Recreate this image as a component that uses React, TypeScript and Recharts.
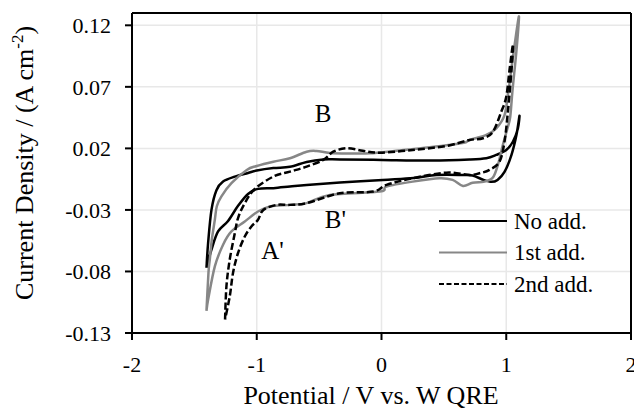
import { LineChart, Line, XAxis, YAxis, CartesianGrid, ReferenceLine, ReferenceDot, Legend, Label } from "recharts";

const FONT = '"Liberation Serif", "Times New Roman", serif';

const xTicks = [-2, -1, 0, 1, 2];
const yTicks = [-0.13, -0.08, -0.03, 0.02, 0.07, 0.12];

// No add. (black, solid) - one closed CV loop
const noAddX = [-1.403, -1.39, -1.363, -1.323, -1.27, -1.176, -1.07, -1.0, -0.867, -0.734, -0.6, -0.467, -0.334, 0.0, 0.4, 0.706, 0.84, 0.92, 1.0, 1.053, 1.093, 1.106, 1.082, 1.042, 0.986, 0.93, 0.882, 0.818, 0.73, 0.658, 0.44, 0.258, 0.01, -0.333, -0.6, -0.734, -0.867, -0.99, -1.07, -1.15, -1.23, -1.31, -1.363, -1.403];
const noAddY = [-0.077, -0.057, -0.03, -0.014, -0.007, -0.003, 0.0, 0.002, 0.004, 0.005, 0.009, 0.011, 0.011, 0.0106, 0.0102, 0.011, 0.012, 0.0147, 0.0187, 0.0254, 0.036, 0.0465, 0.031, 0.0147, 0.0009, -0.0056, -0.0072, -0.0056, -0.002, -0.0016, -0.0016, -0.004, -0.0056, -0.0078, -0.0097, -0.011, -0.0123, -0.0129, -0.017, -0.0267, -0.039, -0.0475, -0.0623, -0.077];

// 1st add. (grey)
const firstX = [-1.403, -1.387, -1.376, -1.36, -1.336, -1.32, -1.283, -1.203, -1.08, -1.0, -0.867, -0.734, -0.6, -0.52, -0.414, -0.254, -0.094, 0.12, 0.386, 0.65, 0.706, 0.84, 0.92, 0.986, 1.018, 1.05, 1.078, 1.102, 1.082, 1.05, 1.032, 1.01, 0.973, 0.933, 0.898, 0.866, 0.818, 0.73, 0.653, 0.57, 0.466, 0.25, 0.04, -0.014, -0.414, -0.6, -0.734, -0.894, -0.99, -1.096, -1.203, -1.27, -1.336, -1.39, -1.403];
const firstY = [-0.112, -0.081, -0.07, -0.054, -0.038, -0.027, -0.019, -0.0083, 0.0025, 0.0057, 0.0092, 0.012, 0.0173, 0.0179, 0.0163, 0.0159, 0.016, 0.0181, 0.0209, 0.0244, 0.0268, 0.031, 0.0363, 0.047, 0.067, 0.0916, 0.112, 0.127, 0.0997, 0.067, 0.0457, 0.0365, 0.0228, 0.0066, -0.003, -0.0056, -0.0072, -0.008, -0.0105, -0.0056, -0.0042, -0.007, -0.011, -0.0151, -0.0178, -0.0245, -0.0259, -0.0272, -0.0313, -0.0394, -0.0475, -0.0583, -0.0759, -0.103, -0.112];

// 2nd add. (black, dashed)
const secondX = [-1.254, -1.243, -1.216, -1.176, -1.15, -1.096, -1.016, -0.867, -0.734, -0.6, -0.467, -0.387, -0.28, -0.15, -0.014, 0.25, 0.52, 0.706, 0.813, 0.893, 0.96, 1.0, 1.026, 1.054, 1.042, 1.013, 0.986, 0.946, 0.866, 0.786, 0.706, 0.52, 0.25, 0.04, -0.067, -0.334, -0.6, -0.734, -0.84, -0.947, -0.99, -1.043, -1.096, -1.15, -1.19, -1.216, -1.254];
const secondY = [-0.119, -0.092, -0.07, -0.049, -0.0366, -0.0245, -0.013, -0.0029, 0.0011, 0.0052, 0.0106, 0.0173, 0.0201, 0.0181, 0.0165, 0.0187, 0.022, 0.0268, 0.0282, 0.0335, 0.0497, 0.0619, 0.0835, 0.1045, 0.0835, 0.0497, 0.0254, 0.0092, 0.0025, -0.0002, -0.0016, 0.0003, -0.0042, -0.0097, -0.0151, -0.0164, -0.0245, -0.0259, -0.0259, -0.03, -0.038, -0.0435, -0.0516, -0.065, -0.081, -0.1, -0.119];

const seriesNames = ["No add.", "1st add.", "2nd add."];

// peak labels
const peakText = ["B", "B'", "A'"];
const peakX = [-0.468, -0.369, -0.874];
const peakY = [0.0485, -0.0371, -0.0626];

const toPoints = (xs: number[], ys: number[]) => xs.map((x, i) => ({ x, y: ys[i] }));

const series = [
  { name: seriesNames[0], data: toPoints(noAddX, noAddY), stroke: "#000000", dash: undefined },
  { name: seriesNames[1], data: toPoints(firstX, firstY), stroke: "#878787", dash: undefined },
  { name: seriesNames[2], data: toPoints(secondX, secondY), stroke: "#000000", dash: "7 3" },
];

// Catmull-Rom style curve so the loops come out smooth (the x values go back and forth)
const smoothCurve = (context: any) => {
  let pts: number[][] = [];
  return {
    areaStart() {},
    areaEnd() {},
    lineStart() {
      pts = [];
    },
    point(x: number, y: number) {
      pts.push([+x, +y]);
    },
    lineEnd() {
      if (!pts.length) return;
      context.moveTo(pts[0][0], pts[0][1]);
      for (let i = 0; i < pts.length - 1; i++) {
        const p0 = pts[i - 1] || pts[i];
        const p1 = pts[i];
        const p2 = pts[i + 1];
        const p3 = pts[i + 2] || p2;
        context.bezierCurveTo(
          p1[0] + (p2[0] - p0[0]) / 6,
          p1[1] + (p2[1] - p0[1]) / 6,
          p2[0] - (p3[0] - p1[0]) / 6,
          p2[1] - (p3[1] - p1[1]) / 6,
          p2[0],
          p2[1]
        );
      }
    },
  };
};

const renderLegend = () => (
  <svg width={200} height={100}>
    {series.map((s, i) => (
      <g key={s.name}>
        <line x1={4} x2={72} y1={16 + i * 31.5} y2={16 + i * 31.5} stroke={s.stroke} strokeWidth={2} strokeDasharray={s.dash ? "5 2.5" : undefined} />
        <text x={79} y={16 + i * 31.5} dominantBaseline="central" fontSize={23} fontFamily={FONT} fill="#000">
          {s.name}
        </text>
      </g>
    ))}
  </svg>
);

const XTitle = () => (
  <text x={371} y={404} textAnchor="middle" fontSize={26} fontFamily={FONT} fill="#000">
    Potential / V vs. W QRE
  </text>
);

const YTitle = () => (
  <text transform="translate(33,163) rotate(-90)" textAnchor="middle" fontSize={26} fontFamily={FONT} fill="#000">
    Current Density / (A cm<tspan dy={-10} fontSize={17}>-2</tspan><tspan dy={10}>)</tspan>
  </text>
);

const tickStyle = { fontSize: 22, fill: "#000", fontFamily: FONT };

export default function App() {
  return (
    <div style={{ position: "absolute", left: 0, top: 0 }}>
      <LineChart width={634} height={410} margin={{ top: 13, right: 3, bottom: 0, left: 0 }}>
        <CartesianGrid stroke="#e8e8e8" strokeWidth={1.5} />
        <XAxis
          type="number"
          dataKey="x"
          domain={[-2, 2]}
          ticks={xTicks}
          interval={0}
          allowDataOverflow
          height={77}
          tickSize={7}
          tickMargin={16}
          axisLine={{ stroke: "#000", strokeWidth: 2 }}
          tickLine={{ stroke: "#000", strokeWidth: 2 }}
          tick={tickStyle}
        >
          <Label content={XTitle} />
        </XAxis>
        <YAxis
          type="number"
          dataKey="y"
          domain={[-0.13, 0.13]}
          ticks={yTicks}
          interval={0}
          allowDataOverflow
          width={132}
          tickSize={7}
          tickMargin={14}
          axisLine={{ stroke: "#000", strokeWidth: 2 }}
          tickLine={{ stroke: "#000", strokeWidth: 2 }}
          tick={tickStyle}
          tickFormatter={(v: number) => v.toFixed(2)}
        >
          <Label content={YTitle} />
        </YAxis>
        <ReferenceLine y={0.13} stroke="#000" strokeWidth={2} />
        <ReferenceLine x={2} stroke="#000" strokeWidth={2} />
        {series.map((s) => (
          <Line
            key={s.name}
            data={s.data}
            dataKey="y"
            name={s.name}
            type={smoothCurve as any}
            stroke={s.stroke}
            strokeWidth={2.5}
            strokeDasharray={s.dash}
            strokeLinejoin="round"
            dot={false}
            activeDot={false}
            isAnimationActive={false}
          />
        ))}
        {peakText.map((t, i) => (
          <ReferenceDot
            key={t}
            x={peakX[i]}
            y={peakY[i]}
            r={0}
            fill="none"
            stroke="none"
            label={{ value: t, position: "center", fontSize: 25, fill: "#000", fontFamily: FONT }}
          />
        ))}
        <Legend
          layout="vertical"
          align="center"
          verticalAlign="middle"
          content={renderLegend}
          wrapperStyle={{ left: 435, top: 205, width: 200, height: 100 }}
        />
      </LineChart>
    </div>
  );
}
